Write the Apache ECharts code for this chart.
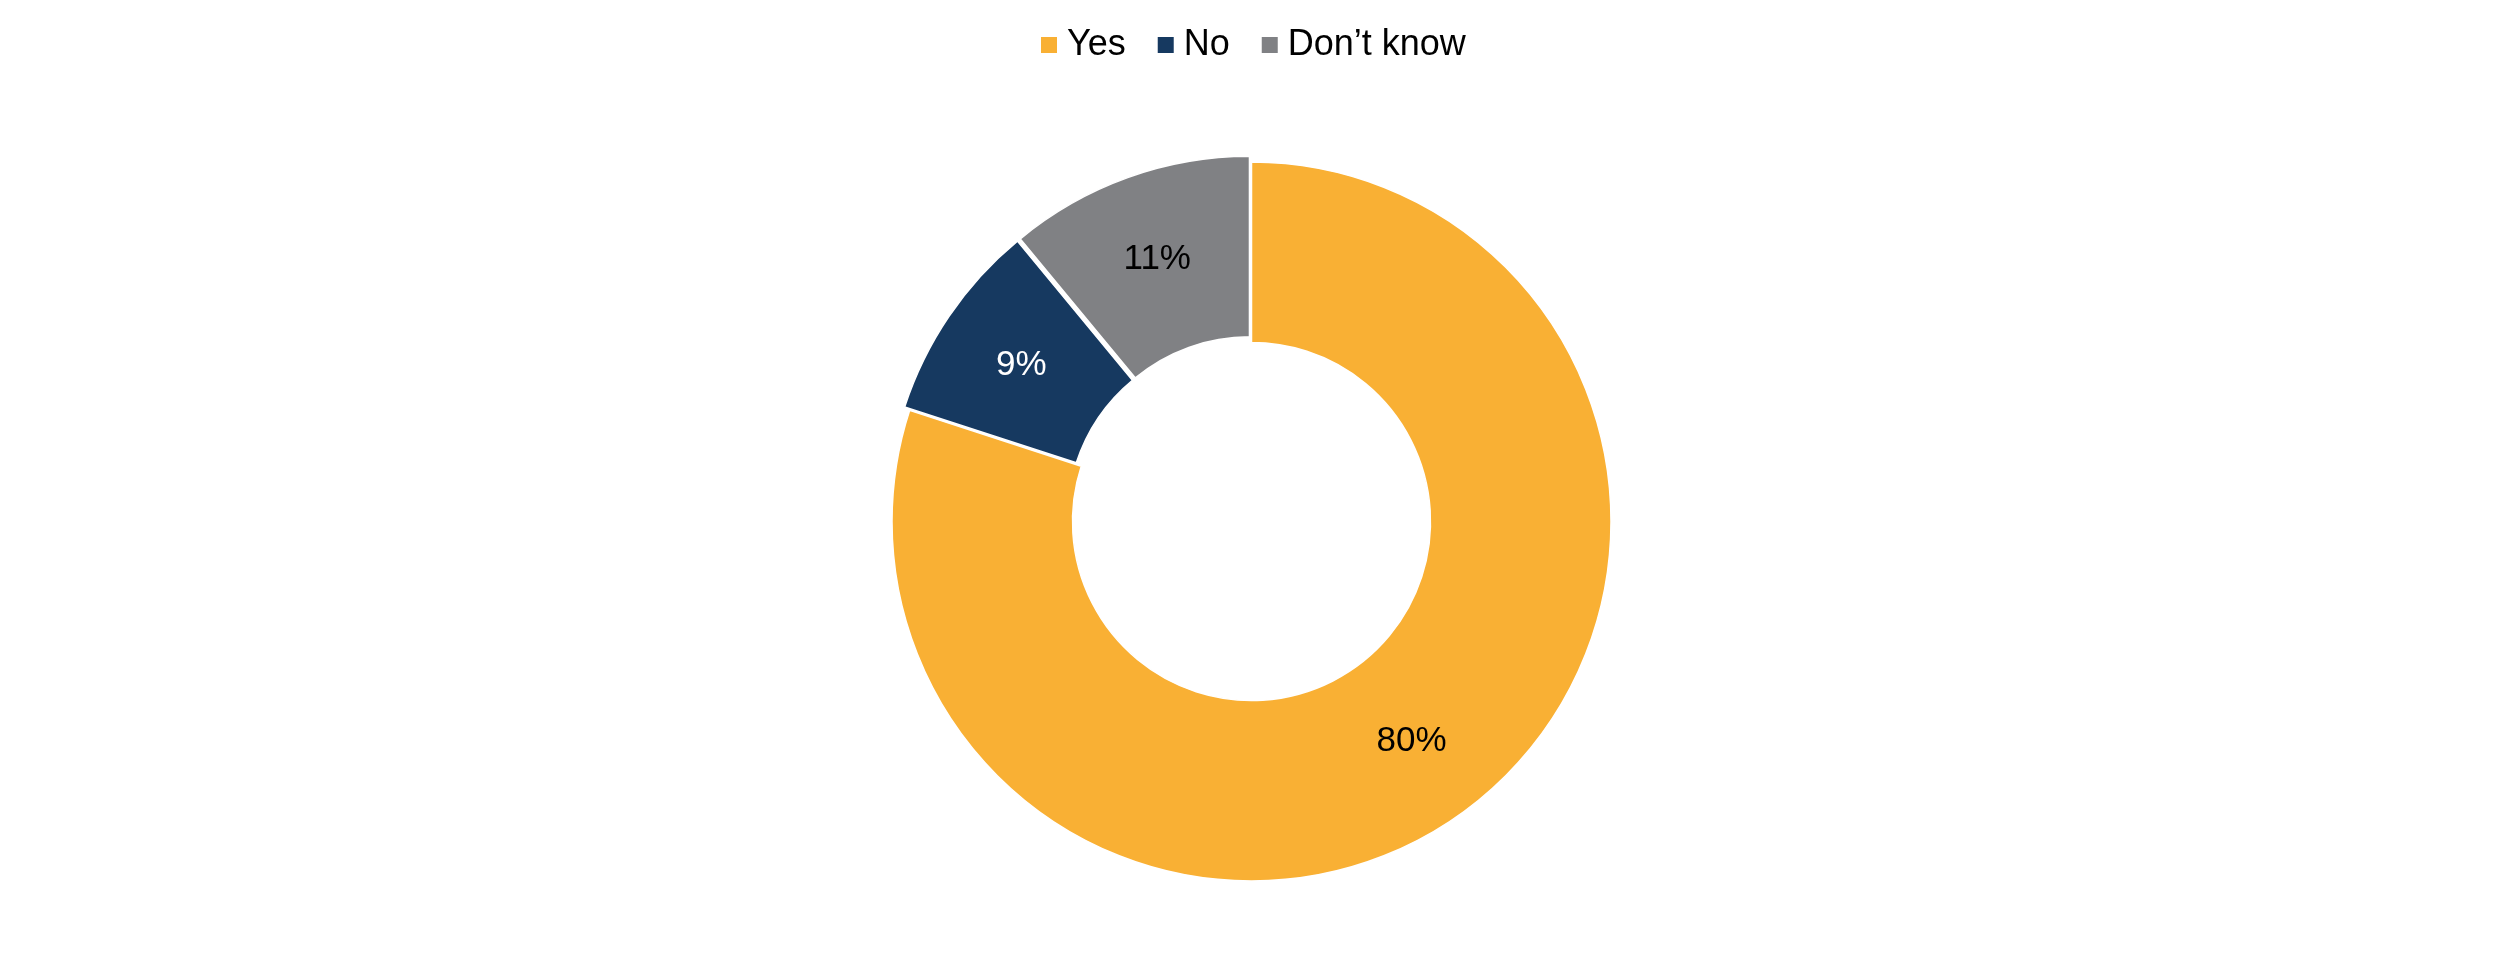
<!DOCTYPE html>
<html>
<head>
<meta charset="utf-8">
<script src="https://cdn.jsdelivr.net/npm/echarts@6/dist/echarts.min.js"></script>
<style>
  html, body { margin: 0; padding: 0; background: #ffffff; }
  #answerPie { width: 2500px; height: 967px; background: #ffffff; }
</style>
</head>
<body>
<div id="answerPie"></div>
<script>
    // survey answers
    var categories = ['Yes', 'No', 'Don\u2019t know'];
    var shares = [80, 9, 11];
    var sliceColors = ['#F9B034', '#163960', '#808184'];
    var labelColors = ['#000000', '#ffffff', '#000000'];
    var explodedSlices = [false, true, true];

    var pieData = categories.map(function (name, i) {
        return {
            name: name,
            value: shares[i],
            selected: explodedSlices[i],
            itemStyle: { color: sliceColors[i] },
            label: { color: labelColors[i] }
        };
    });

    var myChart = echarts.init(document.getElementById('answerPie'));
    myChart.setOption({
        animation: false,
        legend: {
            left: 1034,
            top: 22,
            icon: 'rect',
            itemWidth: 18,
            itemHeight: 18,
            itemGap: 30,
            selectedMode: false,
            textStyle: {
                color: '#000',
                fontFamily: '"Liberation Sans", Arial, sans-serif',
                fontSize: 36,
                padding: [0, 0, 0, 4]
            },
            data: categories
        },
        series: [{
            type: 'pie',
            center: [1251.5, 521.5],
            radius: [179, 359.5],
            startAngle: 90,
            clockwise: true,
            selectedMode: 'multiple',
            selectedOffset: 6,
            avoidLabelOverlap: false,
            itemStyle: {
                borderColor: '#ffffff',
                borderWidth: 1.5
            },
            select: {
                itemStyle: { borderColor: '#ffffff', borderWidth: 1.5 }
            },
            emphasis: { disabled: true },
            label: {
                show: true,
                position: 'inside',
                formatter: '{c}%',
                fontFamily: '"Liberation Sans", Arial, sans-serif',
                fontSize: 35
            },
            labelLine: { show: false },
            data: pieData
        }]
    });
</script>
</body>
</html>
